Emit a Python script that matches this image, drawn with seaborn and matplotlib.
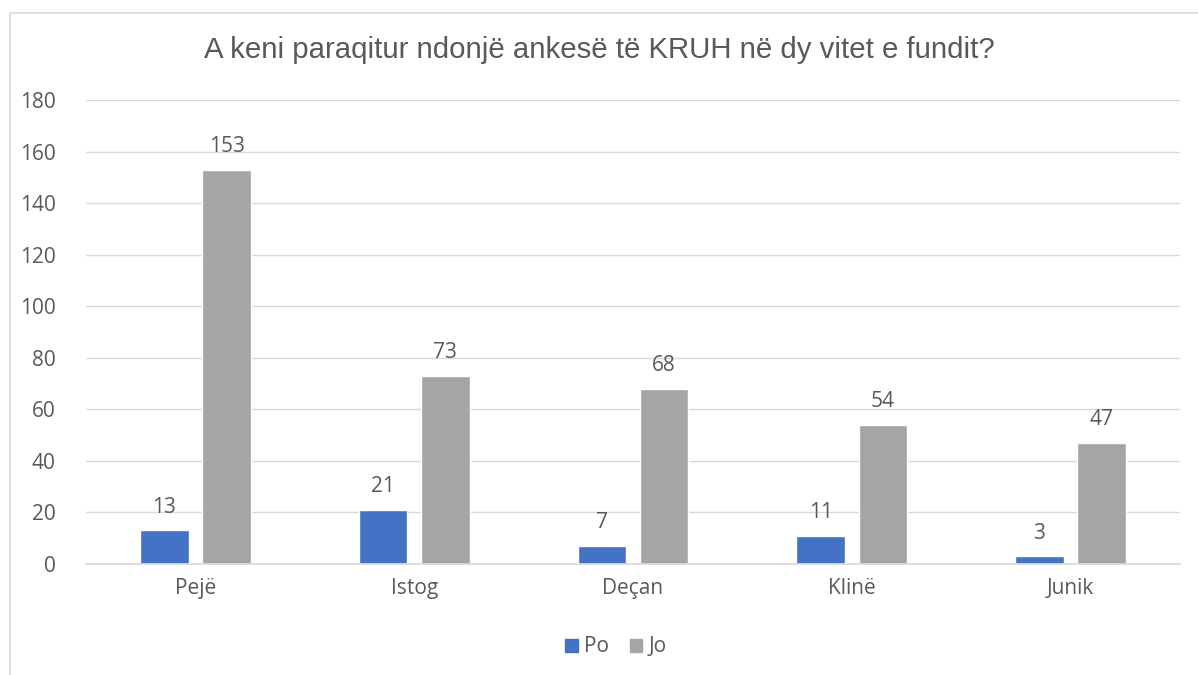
import numpy as np
import pandas as pd
import matplotlib.pyplot as plt
import matplotlib.patches as mpatches
import seaborn as sns

municipalities = ['Pejë', 'Istog', 'Deçan', 'Klinë', 'Junik']
po_values = [13, 21, 7, 11, 3]
jo_values = [153, 73, 68, 54, 47]
series_names = ['Po', 'Jo']
title = 'A keni paraqitur ndonjë ankesë të KRUH në dy vitet e fundit?'

df = pd.DataFrame({
    'komuna': municipalities * 2,
    'pergjigja': [series_names[0]] * len(municipalities) + [series_names[1]] * len(municipalities),
    'vlera': po_values + jo_values,
})

sns.set_theme(style='white')
plt.rcParams['font.family'] = ['Open Sans', 'DejaVu Sans']
text_color = '#595959'
palette = {'Po': '#4472C4', 'Jo': '#A5A5A5'}

fig = plt.figure(figsize=(11.98, 6.75), dpi=100)
ax = fig.add_axes([86 / 1198, 1 - 564 / 675, 1094 / 1198, 464 / 675])

sns.barplot(data=df, x='komuna', y='vlera', hue='pergjigja', palette=palette,
            width=0.57, gap=0.22, ax=ax, legend=False, saturation=1)

ax.set_ylim(0, 180)
ax.set_yticks(range(0, 181, 20))
ax.set_xlim(-0.5, len(municipalities) - 0.5)
ax.grid(axis='y', color='#D9D9D9', linewidth=1)
ax.set_axisbelow(True)
for s in ['top', 'right', 'left']:
    ax.spines[s].set_visible(False)
ax.spines['bottom'].set_color('#D9D9D9')
ax.set_xlabel('')
ax.set_ylabel('')
ax.tick_params(axis='both', length=0, labelsize=15, labelcolor=text_color)
ax.tick_params(axis='y', pad=22)
ax.tick_params(axis='x', pad=10)

for cont in ax.containers:
    ax.bar_label(cont, fmt='%d', padding=9, fontsize=15, color=text_color)

fig.text(0.5, 1 - 50 / 675, title, ha='center', va='center', fontsize=21.2,
         color=text_color, family=['Liberation Sans', 'DejaVu Sans'])

handles = [mpatches.Patch(color=palette[n], label=n) for n in series_names]
fig.legend(handles=handles, loc='center', bbox_to_anchor=(616 / 1198, 1 - 647 / 675),
           ncol=2, frameon=False, fontsize=15, labelcolor=text_color,
           handlelength=0.6, handleheight=0.6, handletextpad=0.3, columnspacing=1.0)

fig.patches.append(mpatches.Rectangle((10 / 1198, -0.1), 1.2, 1 - 13 / 675 + 0.1,
                                      transform=fig.transFigure, fill=False,
                                      edgecolor='#D9D9D9', linewidth=1.2))

fig.savefig('out.png', dpi=100)
